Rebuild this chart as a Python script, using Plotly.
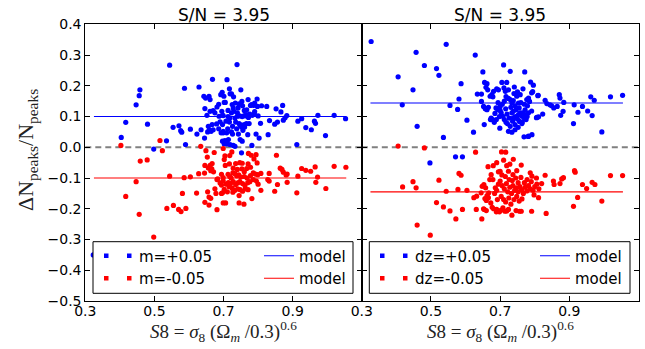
import plotly.graph_objects as go

W, H = 645, 349

# ---------------- data ----------------
# left panel: shear calibration m = +0.05 / -0.05
m_plus_s8 = [
    0.323,0.404,0.417,0.447,0.456,0.458,0.480,0.498,0.535,0.544,
    0.554,0.571,0.579,0.576,0.587,0.590,0.604,0.623,0.629,0.635,
    0.645,0.646,0.643,0.648,0.658,0.661,0.668,0.652,0.661,0.670,
    0.675,0.687,0.697,0.656,0.659,0.654,0.667,0.670,0.664,0.680,
    0.693,0.699,0.697,0.702,0.692,0.696,0.702,0.710,0.739,0.750,
    0.717,0.719,0.701,0.705,0.713,0.695,0.699,0.723,0.730,0.733,
    0.729,0.723,0.725,0.728,0.753,0.755,0.745,0.742,0.734,0.740,
    0.747,0.754,0.760,0.765,0.745,0.748,0.752,0.752,0.766,0.774,
    0.761,0.760,0.707,0.717,0.697,0.709,0.699,0.723,0.726,0.714,
    0.704,0.711,0.719,0.728,0.733,0.743,0.748,0.754,0.752,0.770,
    0.767,0.767,0.772,0.771,0.778,0.797,0.798,0.790,0.788,0.781,
    0.790,0.789,0.783,0.794,0.782,0.825,0.810,0.807,0.803,0.833,
    0.829,0.883,0.878,0.873,0.871,0.866,0.852,0.856,0.848,0.926,
    0.915,0.912,0.938,0.954,0.966,0.963,0.973,0.995,1.020,1.053,
    0.690,0.686,0.713,0.718,0.735,0.738,0.756,0.776,0.740,0.726,
    0.681,0.712,0.800,0.760,0.686]
m_plus_dn = [
    -0.350,0.032,0.081,0.138,0.168,0.187,0.075,-0.006,0.021,0.267,
    0.065,0.070,0.049,0.054,0.192,0.009,0.059,0.043,0.196,0.057,
    0.030,0.126,0.166,0.160,0.166,0.155,0.221,0.104,0.117,0.119,
    0.112,0.101,0.104,0.068,0.057,0.050,0.074,0.057,0.052,0.076,
    0.047,0.052,0.020,0.011,0.171,0.179,0.146,0.220,0.269,0.187,
    0.190,0.174,0.166,0.146,0.120,0.117,0.103,0.112,0.117,0.095,
    0.164,0.174,0.139,0.128,0.149,0.135,0.141,0.128,0.144,0.101,
    0.102,0.100,0.103,0.102,0.077,0.072,0.072,0.066,0.077,0.077,
    0.066,0.074,0.085,0.082,0.074,0.047,0.047,0.050,0.043,0.025,
    0.022,0.011,0.009,0.006,0.003,0.043,0.025,0.020,-0.018,0.041,
    0.122,0.106,0.097,0.155,0.136,0.157,0.133,0.144,0.136,0.139,
    0.116,0.109,0.104,0.043,0.006,0.133,0.135,0.078,0.030,0.087,
    0.041,0.103,0.096,0.088,0.136,0.115,0.125,0.082,0.075,0.093,
    0.085,0.009,0.064,0.057,0.078,0.085,0.104,0.038,0.104,0.093,
    0.083,0.060,0.100,0.095,0.082,0.060,0.055,0.108,0.112,0.068,
    0.131,0.060,0.102,0.120,0.140]

m_minus_s8 = [
    0.403,0.516,0.523,0.459,0.479,0.447,0.417,0.456,0.498,0.544,
    0.536,0.555,0.570,0.577,0.591,0.581,0.586,0.604,0.622,0.634,
    0.628,0.645,0.649,0.653,0.673,0.646,0.656,0.663,0.666,0.671,
    0.661,0.667,0.654,0.658,0.663,0.646,0.658,0.681,0.675,0.678,
    0.683,0.690,0.694,0.699,0.694,0.694,0.702,0.699,0.681,0.702,
    0.699,0.724,0.780,0.794,0.788,0.797,0.853,0.704,0.705,0.717,
    0.735,0.747,0.754,0.771,0.778,0.767,0.786,0.792,0.799,0.808,
    0.832,0.864,0.869,0.873,0.881,0.884,0.828,0.832,0.856,0.848,
    0.884,0.808,0.782,0.759,0.745,0.706,0.745,0.727,0.711,0.697,
    0.915,0.912,0.926,0.938,0.952,0.965,0.972,0.967,0.996,1.020,
    1.054,0.699,0.708,0.714,0.720,0.728,0.735,0.741,0.747,0.755,
    0.762,0.770,0.776,0.713,0.727,0.733,0.738,0.744,0.750,0.718,
    0.722,0.733,0.741,0.748,0.755,0.763,0.771,0.725,0.716,0.760,
    0.768,0.778,0.786,0.795,0.800,0.753,0.740,0.728,0.760,0.718,
    0.772]
m_minus_dn = [
    0.006,0.022,-0.011,-0.045,-0.041,-0.112,-0.160,-0.218,-0.292,-0.094,
    -0.199,-0.189,-0.202,-0.209,-0.199,-0.150,-0.099,-0.096,-0.149,0.003,
    -0.086,-0.084,-0.011,-0.032,-0.017,-0.059,-0.067,-0.076,-0.070,-0.080,
    -0.059,-0.053,-0.145,-0.162,-0.166,-0.179,-0.188,-0.203,-0.135,-0.150,
    -0.103,-0.116,-0.123,-0.099,-0.088,-0.150,-0.137,-0.181,-0.105,-0.040,
    -0.004,-0.015,-0.026,-0.024,-0.038,-0.051,-0.026,-0.028,-0.059,-0.054,
    -0.053,-0.050,-0.052,-0.054,-0.065,-0.069,-0.083,-0.087,-0.089,-0.085,
    -0.085,-0.068,-0.072,-0.081,-0.090,-0.087,-0.105,-0.110,-0.121,-0.143,
    -0.114,-0.140,-0.167,-0.185,-0.181,-0.181,-0.157,-0.146,-0.145,-0.148,
    -0.094,-0.148,-0.069,-0.075,-0.078,-0.064,-0.097,-0.114,-0.134,-0.062,
    -0.065,-0.110,-0.120,-0.115,-0.118,-0.112,-0.121,-0.116,-0.112,-0.118,
    -0.125,-0.115,-0.112,-0.088,-0.083,-0.086,-0.093,-0.090,-0.097,-0.095,
    -0.100,-0.140,-0.135,-0.138,-0.143,-0.135,-0.138,-0.133,-0.128,-0.095,
    -0.100,-0.092,-0.105,-0.110,-0.120,-0.070,-0.072,-0.068,-0.080,-0.027,
    -0.020]

# right panel: photo-z bias dz = +0.05 / -0.05
dz_plus_s8 = [
    0.327,0.405,0.417,0.448,0.457,0.460,0.481,0.497,0.516,0.523,
    0.536,0.544,0.555,0.571,0.591,0.577,0.581,0.587,0.604,0.623,
    0.628,0.650,0.654,0.634,0.646,0.655,0.662,0.659,0.646,0.652,
    0.657,0.662,0.666,0.671,0.676,0.681,0.690,0.695,0.674,0.678,
    0.683,0.688,0.693,0.700,0.699,0.705,0.710,0.711,0.715,0.719,
    0.724,0.729,0.703,0.708,0.712,0.717,0.721,0.729,0.734,0.724,
    0.729,0.734,0.738,0.743,0.748,0.753,0.741,0.750,0.758,0.766,
    0.771,0.777,0.782,0.785,0.788,0.796,0.791,0.738,0.746,0.753,
    0.758,0.763,0.769,0.738,0.734,0.743,0.756,0.763,0.724,0.769,
    0.782,0.792,0.772,0.779,0.782,0.774,0.806,0.811,0.809,0.823,
    0.830,0.835,0.849,0.855,0.865,0.871,0.873,0.875,0.884,0.912,
    0.914,0.925,0.938,0.953,0.962,0.966,0.972,0.994,1.019,1.054,
    0.882,0.844,0.810,0.805,0.794,0.791,0.781,0.764,0.743,0.700,
    0.706,0.712,0.716,0.720,0.726,0.731,0.736,0.744,0.750,0.755,
    0.760,0.765,0.770,0.775,0.698,0.694,0.685,0.717,0.740,0.752,
    0.778,0.664,0.679,0.672,0.689]
dz_plus_dn = [
    0.344,0.229,0.138,0.187,0.309,0.068,0.266,-0.051,0.256,0.234,
    0.032,0.335,0.136,-0.031,-0.031,0.123,0.157,0.207,0.088,0.049,
    0.300,0.245,0.074,0.173,0.173,0.211,0.207,0.195,0.149,0.133,
    0.125,0.122,0.130,0.166,0.171,0.182,0.190,0.187,0.095,0.090,
    0.081,0.128,0.122,0.133,0.062,0.211,0.268,0.193,0.182,0.211,
    0.187,0.247,0.112,0.101,0.090,0.081,0.077,0.068,0.049,0.159,
    0.155,0.144,0.152,0.135,0.166,0.144,0.196,0.180,0.171,0.190,
    0.245,0.155,0.160,0.149,0.212,0.202,0.177,0.117,0.122,0.106,
    0.112,0.101,0.096,0.096,0.112,0.074,0.084,0.077,0.052,0.034,
    0.036,0.041,0.122,0.135,0.112,0.106,0.097,0.099,0.168,0.108,
    0.153,0.142,0.135,0.128,0.133,0.171,0.160,0.104,0.146,0.077,
    0.138,0.114,0.133,0.118,0.164,0.103,0.153,0.050,0.164,0.169,
    0.117,0.138,0.169,0.096,0.181,0.118,0.035,0.082,0.057,0.120,
    0.140,0.150,0.125,0.108,0.095,0.130,0.085,0.100,0.092,0.128,
    0.145,0.112,0.140,0.090,0.100,0.145,0.110,0.165,0.175,0.065,
    0.100,0.187,0.164,0.090,0.090]

dz_minus_s8 = [
    0.405,0.481,0.629,0.418,0.448,0.457,0.460,0.498,0.516,0.523,
    0.536,0.544,0.555,0.572,0.578,0.581,0.587,0.591,0.604,0.624,
    0.632,0.631,0.647,0.645,0.653,0.648,0.658,0.656,0.660,0.663,
    0.667,0.670,0.674,0.665,0.654,0.660,0.677,0.689,0.686,0.679,
    0.652,0.662,0.666,0.681,0.690,0.702,0.708,0.719,0.724,0.734,
    0.761,0.756,0.791,0.833,0.811,0.854,0.873,0.883,0.924,0.938,
    0.950,0.966,0.974,0.994,1.019,1.054,0.917,0.704,0.716,0.710,
    0.738,0.719,0.761,0.700,0.724,0.748,0.737,0.787,0.792,0.830,
    0.915,0.912,0.746,0.714,0.698,0.673,0.856,0.878,0.700,0.706,
    0.712,0.718,0.722,0.728,0.733,0.737,0.742,0.747,0.752,0.757,
    0.762,0.767,0.772,0.777,0.782,0.787,0.795,0.800,0.806,0.812,
    0.820,0.703,0.710,0.716,0.725,0.731,0.740,0.748,0.755,0.763,
    0.770,0.726,0.745,0.760,0.778,0.690,0.695,0.684,0.692,0.715,
    0.735,0.752,0.790,0.798,0.805,0.680,0.690,0.695,0.705,0.728]
dz_minus_dn = [
    0.004,-0.002,-0.016,-0.129,-0.112,-0.132,-0.253,-0.286,-0.180,-0.107,
    -0.194,-0.143,-0.207,-0.233,-0.137,-0.085,-0.091,-0.202,-0.140,-0.164,
    -0.159,-0.202,-0.233,-0.148,-0.121,-0.127,-0.132,-0.167,-0.173,-0.162,
    -0.148,-0.105,-0.089,-0.063,-0.202,-0.206,-0.195,-0.210,-0.132,-0.105,
    -0.200,-0.157,-0.164,-0.200,-0.202,-0.205,-0.197,-0.207,-0.202,-0.221,
    -0.208,-0.208,-0.208,-0.215,-0.164,-0.110,-0.118,-0.099,-0.163,-0.121,
    -0.134,-0.114,-0.121,-0.175,-0.092,-0.092,-0.081,-0.015,-0.016,-0.042,
    -0.039,-0.060,-0.058,-0.078,-0.078,-0.076,-0.089,-0.083,-0.094,-0.091,
    -0.076,-0.192,-0.206,-0.208,-0.210,-0.181,-0.121,-0.103,-0.110,-0.125,
    -0.135,-0.118,-0.145,-0.130,-0.150,-0.125,-0.140,-0.132,-0.145,-0.128,
    -0.138,-0.150,-0.130,-0.142,-0.125,-0.135,-0.140,-0.128,-0.120,-0.135,
    -0.118,-0.160,-0.170,-0.178,-0.165,-0.185,-0.170,-0.160,-0.175,-0.168,
    -0.115,-0.105,-0.100,-0.098,-0.105,-0.140,-0.120,-0.150,-0.170,-0.095,
    -0.108,-0.115,-0.112,-0.155,-0.100,-0.060,-0.050,-0.080,-0.090,-0.055]

# model predictions (constant offsets)
model_m = [0.100, -0.100]
model_dz = [0.144, -0.145]
model_s8_range = [0.325, 1.055]

panel_titles = ["S/N = 3.95", "S/N = 3.95"]
legend_labels_m = ["m=+0.05", "m=-0.05"]
legend_labels_dz = ["dz=+0.05", "dz=-0.05"]
x_ticks = [0.3, 0.5, 0.7, 0.9]
y_ticks = [0.4, 0.3, 0.2, 0.1, 0.0, -0.1, -0.2, -0.3, -0.4, -0.5]

# ---------------- figure ----------------
BLUE = "#0000ff"
RED = "#ff0000"
SANS = "DejaVu Sans"
SERIF = "Liberation Serif"

fig = go.Figure()

def add_panel(xa, ya, s8p, dnp, s8m, dnm, model, labels, leg_pts, leg_mod):
    fig.add_trace(go.Scatter(x=s8p, y=dnp, mode="markers", xaxis=xa, yaxis=ya,
                             marker=dict(color=BLUE, size=5.2, line=dict(width=0)),
                             showlegend=False))
    fig.add_trace(go.Scatter(x=s8m, y=dnm, mode="markers", xaxis=xa, yaxis=ya,
                             marker=dict(color=RED, size=5.2, line=dict(width=0)),
                             showlegend=False))
    for val, col, idx in [(model[0], BLUE, 0), (model[1], RED, 1)]:
        fig.add_trace(go.Scatter(x=model_s8_range, y=[val, val], mode="lines",
                                 xaxis=xa, yaxis=ya, line=dict(color=col, width=1.1),
                                 name="model", legend=leg_mod, showlegend=True,
                                 legendrank=idx + 1))
    # legend entries for the points (two dots, as matplotlib numpoints=2)
    for lab, col, idx in [(labels[0], BLUE, 0), (labels[1], RED, 1)]:
        fig.add_trace(go.Scatter(x=[None], y=[None], mode="lines", xaxis=xa, yaxis=ya,
                                 line=dict(color=col, width=4.5, dash="4.5px,18.5px"),
                                 name=lab, legend=leg_pts, showlegend=True,
                                 legendrank=idx + 1))

add_panel("x", "y", m_plus_s8, m_plus_dn, m_minus_s8, m_minus_dn, model_m,
          legend_labels_m, "legend", "legend2")
add_panel("x2", "y2", dz_plus_s8, dz_plus_dn, dz_minus_s8, dz_minus_dn, model_dz,
          legend_labels_dz, "legend3", "legend4")

# pixel geometry
L1, R1 = 85.3, 361.8
L2, R2 = 361.8, 638.5
TOP, BOT = 24.3, 301.0
ydom = [1 - BOT / H, 1 - TOP / H]

axis_common = dict(range=[0.3, 1.1], showgrid=False, zeroline=False, showline=True,
                   linecolor="black", linewidth=1, mirror="ticks", ticks="inside",
                   ticklen=5, tickwidth=1, tickcolor="black", automargin=False,
                   tickvals=x_ticks, tickformat=".1f", ticklabelstandoff=-3,
                   tickfont=dict(family=SANS, size=14, color="black"))
yaxis_common = dict(range=[-0.5, 0.4], showgrid=False, zeroline=False, showline=True,
                    linecolor="black", linewidth=1, mirror="ticks", ticks="inside",
                    ticklen=5, tickwidth=1, tickcolor="black", tickvals=y_ticks,
                    automargin=False, tickformat=".1f",
                    tickfont=dict(family=SANS, size=14, color="black"),
                    domain=ydom)

fig.update_layout(
    width=W, height=H,
    margin=dict(l=0, r=0, t=0, b=0, autoexpand=False),
    paper_bgcolor="white", plot_bgcolor="white",
    hovermode=False,
    xaxis=dict(axis_common, domain=[L1 / W, R1 / W], anchor="y"),
    xaxis2=dict(axis_common, domain=[L2 / W, R2 / W], anchor="y2"),
    yaxis=dict(yaxis_common, anchor="x"),
    yaxis2=dict(yaxis_common, anchor="x2", showticklabels=False),
    showlegend=True,
)

leg_common = dict(bgcolor="rgba(0,0,0,0)", borderwidth=0, orientation="v",
                  xanchor="left", yanchor="top", traceorder="normal",
                  font=dict(family=SANS, size=15, color="black"))
LEG_TOP = 239.5
fig.update_layout(
    legend=dict(leg_common, x=99 / W, y=1 - LEG_TOP / H),
    legend2=dict(leg_common, x=259 / W, y=1 - LEG_TOP / H),
    legend3=dict(leg_common, x=375 / W, y=1 - LEG_TOP / H),
    legend4=dict(leg_common, x=535 / W, y=1 - LEG_TOP / H),
)

shapes = []
for xr, yr in [("x domain", "y"), ("x2 domain", "y2")]:
    shapes.append(dict(type="line", xref=xr, yref=yr, x0=0, x1=1, y0=0, y1=0,
                       line=dict(color="#808080", width=2, dash="6px,4px"), layer="below"))
for x0, x1 in [(93, 353), (369.3, 630)]:
    shapes.append(dict(type="rect", xref="paper", yref="paper",
                       x0=x0 / W, x1=x1 / W, y0=1 - 293.3 / H, y1=1 - 241.7 / H,
                       fillcolor="white", line=dict(color="black", width=1), layer="above"))
fig.update_layout(shapes=shapes)

ann = []
for cx, t in [((L1 + R1) / 2, panel_titles[0]), ((L2 + R2) / 2, panel_titles[1])]:
    ann.append(dict(text=t, x=cx / W, y=1 - 14.5 / H, xref="paper", yref="paper",
                    xanchor="center", yanchor="middle", showarrow=False,
                    font=dict(family=SANS, size=17, color="black")))
xlabel = "<i>S</i>8 = <i>σ</i><sub>8</sub> (Ω<sub><i>m</i></sub> /0.3)<sup>0.6</sup>"
for cx in [(L1 + R1) / 2, (L2 + R2) / 2]:
    ann.append(dict(text=xlabel, x=cx / W, y=1 - 331 / H, xref="paper", yref="paper",
                    xanchor="center", yanchor="middle", showarrow=False,
                    font=dict(family=SERIF, size=19, color="#222222")))
ann.append(dict(text="ΔN<sub>peaks</sub>/N<sub>peaks</sub>", x=27 / W, y=1 - 150 / H,
                xref="paper", yref="paper", xanchor="center", yanchor="middle",
                textangle=-90, showarrow=False,
                font=dict(family=SERIF, size=22, color="#222222")))
fig.update_layout(annotations=ann)

fig.write_html("out.html", config={"displayModeBar": False},
               post_script="document.body.style.margin='0px';")
